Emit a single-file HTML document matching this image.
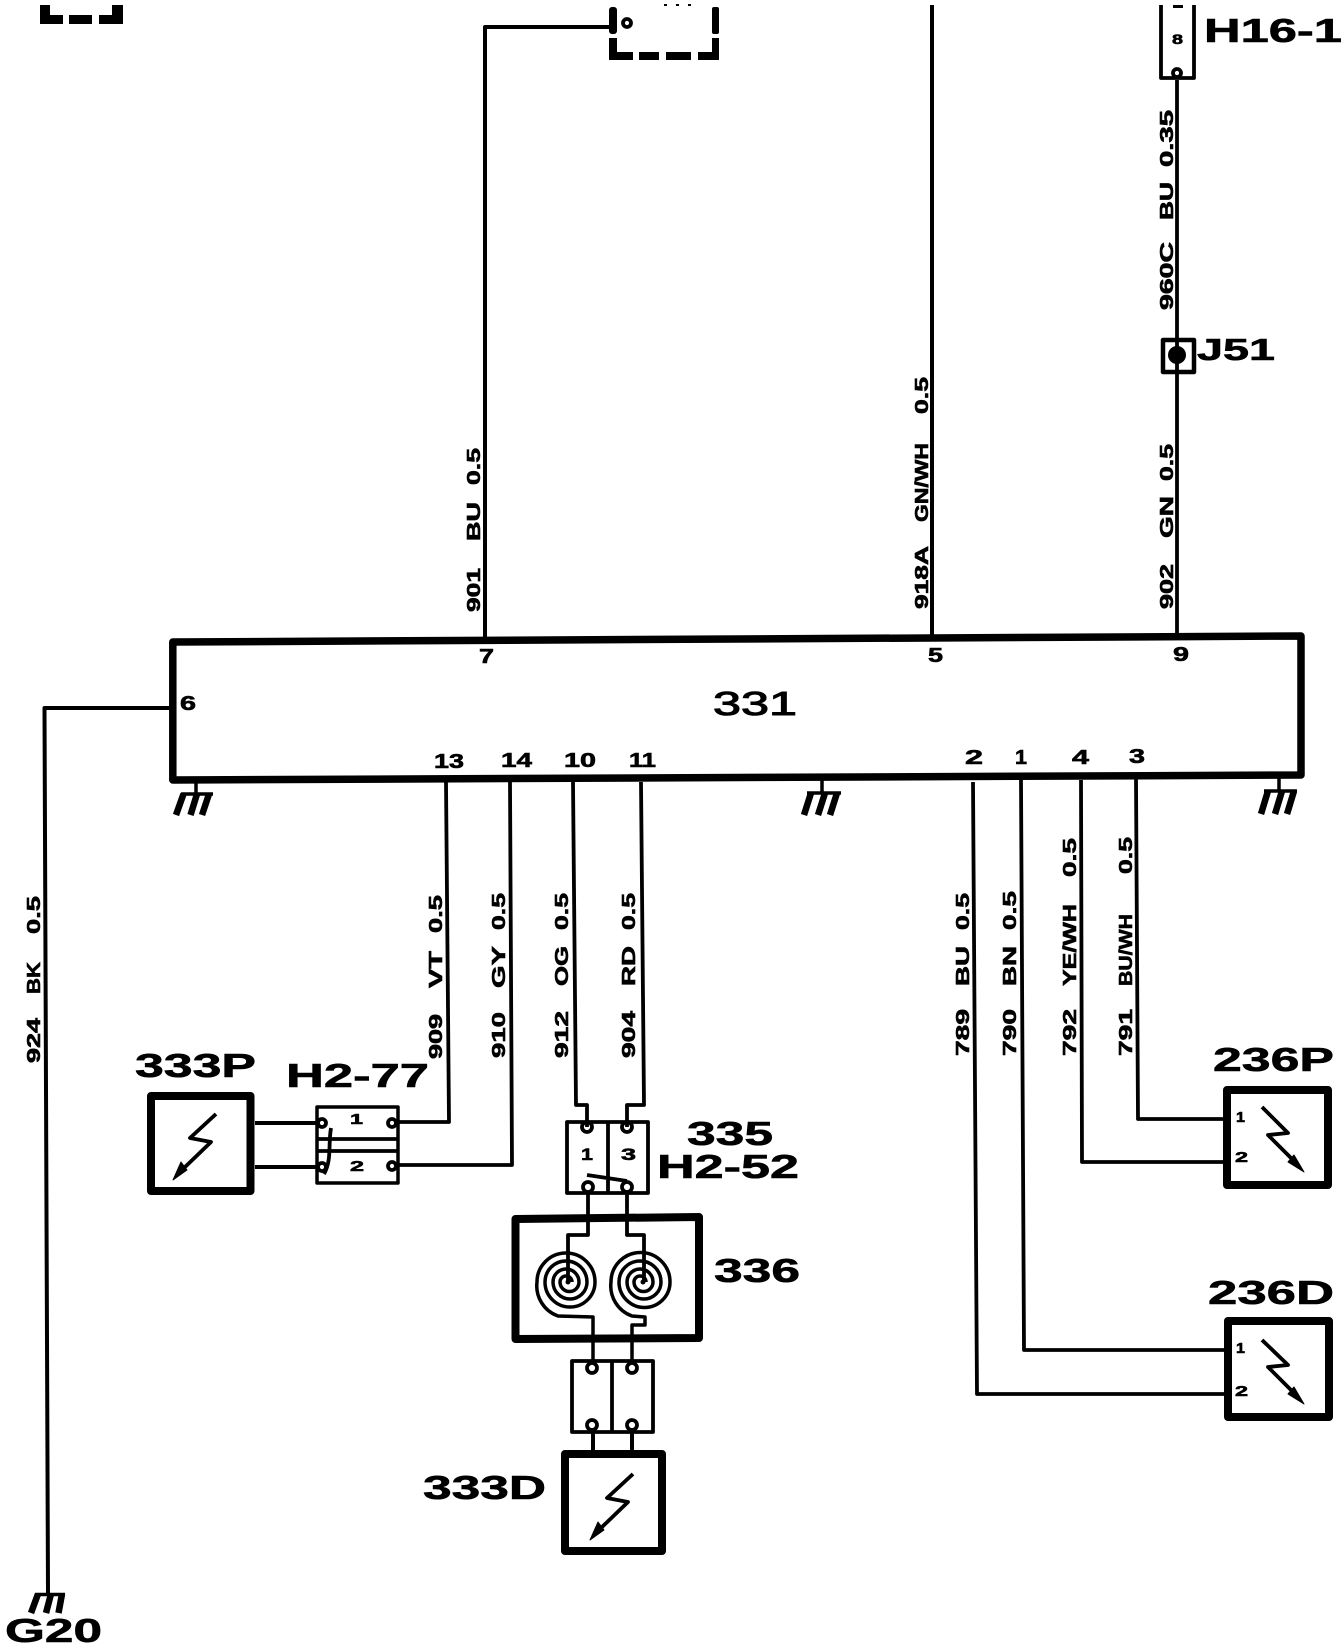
<!DOCTYPE html>
<html>
<head>
<meta charset="utf-8">
<style>
html,body{margin:0;padding:0;background:#fff}
svg{display:block}
text{font-family:"Liberation Sans",sans-serif;font-weight:bold;fill:#000;stroke:#000;stroke-width:.6}
.w{font-size:18px}
.b{font-size:33px}
.p{font-size:20px}
</style>
</head>
<body>
<svg width="1344" height="1648" viewBox="0 0 1344 1648" xmlns="http://www.w3.org/2000/svg">
<rect width="1344" height="1648" fill="#fff"/>
<g fill="none" stroke="#000" stroke-width="3.8" stroke-linejoin="round">
<!-- top-left bracket -->
<g fill="#000" stroke="none">
<rect x="40" y="5" width="10" height="19"/><rect x="40" y="15" width="23" height="9"/><rect x="69" y="15" width="23" height="9"/><rect x="99" y="15" width="24" height="9"/><rect x="112" y="5" width="11" height="19"/>
<!-- top dashed box -->
<rect x="609" y="7" width="8" height="27" rx="3"/><rect x="609" y="38" width="8" height="22"/>
<rect x="609" y="52" width="24" height="8"/><rect x="639" y="52" width="20" height="8"/><rect x="666" y="52" width="25" height="8"/><rect x="698" y="52" width="21" height="8"/>
<rect x="712" y="7" width="7" height="27" rx="2"/><rect x="712" y="38" width="7" height="22"/>
<rect x="664" y="4" width="3" height="2"/><rect x="676" y="4" width="3" height="2"/><rect x="688" y="4" width="3" height="2"/>
</g>
<circle cx="627" cy="23" r="4"/>
<path d="M485 638V27H613" stroke-width="4"/>
<path d="M932 5V638" stroke-width="4"/>
<path d="M1177 80V636"/>
<!-- H16-1 -->
<path d="M1161 5V78H1194V5"/>
<circle cx="1177" cy="73" r="4" fill="#fff"/>
<rect x="1173" y="5" width="10" height="3" fill="#000" stroke="none"/>
<!-- J51 -->
<rect x="1163" y="340" width="31" height="32" fill="#fff" stroke-width="4.5"/>
<circle cx="1177" cy="355" r="9" fill="#000" stroke="none"/>
<path d="M1177 338V372"/>
<!-- main box -->
<path d="M172.800 642L1301 636V775L172.800 780Z" stroke-width="7.5"/>
<!-- 924 -->
<path d="M169 708H44.500L48 1593" stroke-width="4"/>
<!-- grounds -->
<g stroke-width="3.500">
<path d="M196 783V794M181 794H213"/>
<path d="M822 779V793M807 793H841"/>
<path d="M1279 777V791M1264 791H1297"/>
<path d="M35 1594.500H65"/>
</g>
<g stroke-width="6.500" stroke-linejoin="miter">
<path d="M183.500 794L176 815M197 794L190.500 815M209 794L202 815"/>
<path d="M811 793L804 815M825 793L818 815M837 793L830 815"/>
<path d="M1268 791L1261 814M1282 791L1275 814M1294 791L1287 814"/>
<path d="M38 1594L31 1613M51 1594L46 1613M62 1594L58.500 1613"/>
</g>
<!-- lower wires -->
<path d="M446 782L449 1122H398"/>
<path d="M510 782L512 1165H398"/>
<path d="M573 782L576 1105H587V1127"/>
<path d="M641 782L644 1105H627V1127"/>
<path d="M973 782L977 1394H1224"/>
<path d="M1021 780L1024 1350H1224"/>
<path d="M1081 780L1082 1162H1224"/>
<path d="M1136 778L1138 1119H1224"/>
<!-- 333P -->
<rect x="151" y="1096" width="99.500" height="95" stroke-width="8"/>
<path d="M255 1123H316M255 1167H316" stroke-width="4"/>
<path d="M216 1114L190 1138L211 1142L184 1168" stroke-width="3.800"/>
<path d="M173 1180L181 1162L187 1170Z" fill="#000" stroke-width="1"/>
<!-- H2-77 -->
<rect x="317" y="1107" width="81" height="76" stroke-width="3.500"/>
<path d="M317 1139H398M317 1151H398"/>
<circle cx="322" cy="1123" r="4"/><circle cx="322" cy="1167" r="4"/><circle cx="392" cy="1123" r="4"/><circle cx="392" cy="1166" r="4"/>
<path d="M331 1128C328 1145 332 1160 324 1174"/>
<!-- 335 -->
<rect x="567" y="1122" width="81" height="71"/>
<path d="M608 1122V1178M608 1180V1193"/>
<circle cx="587" cy="1127" r="5"/><circle cx="627" cy="1127" r="5"/><circle cx="588" cy="1187" r="5"/><circle cx="627" cy="1187" r="5"/>
<path d="M587 1175L627 1181"/>
<!-- 336 -->
<path d="M515.500 1219L699 1217V1338L515.500 1339Z" stroke-width="8"/>
<path d="M588 1192V1235H568V1282M627 1192V1235H644V1282"/>
<path stroke-width="3.500" d="M572 1282A6 6 0 0 0 560 1282A9.500 9.500 0 0 0 579 1282A13 13 0 0 0 553 1282A17 17 0 0 0 587 1282A21 21 0 0 0 545 1282A24.500 24.500 0 0 0 595 1282A28.500 28.500 0 0 0 537 1282A32 32 0 0 0 558 1316L593 1317V1360"/>
<path stroke-width="3.500" d="M646 1282A6 6 0 0 0 634 1282A9.500 9.500 0 0 0 653 1282A13 13 0 0 0 627 1282A17 17 0 0 0 661 1282A21 21 0 0 0 619 1282A24.500 24.500 0 0 0 670 1282A29 29 0 0 0 611 1282A32 32 0 0 0 632 1316L645 1317V1325H632V1360"/>
<circle cx="568" cy="1282" r="2.500" fill="#000" stroke="none"/><circle cx="643" cy="1282" r="2.500" fill="#000" stroke="none"/>
<!-- lower connector -->
<rect x="572" y="1361" width="81" height="71"/>
<path d="M612 1361V1432"/>
<circle cx="592" cy="1368" r="5"/><circle cx="632" cy="1368" r="5"/><circle cx="592" cy="1425" r="5"/><circle cx="632" cy="1425" r="5"/>
<path d="M593 1430V1450M632 1430V1450" stroke-width="4"/>
<!-- 333D -->
<rect x="565" y="1454" width="97" height="97" stroke-width="8"/>
<path d="M633 1474L607 1498L628 1502L601 1528"/>
<path d="M590 1540L598 1522L604 1530Z" fill="#000" stroke-width="1"/>
<!-- 236P -->
<rect x="1227" y="1090" width="101" height="95" stroke-width="8"/>
<path d="M1262 1107L1288 1133L1268 1135L1295 1162"/>
<path d="M1304 1172L1288 1162L1294 1155Z" fill="#000" stroke-width="1"/>
<!-- 236D -->
<rect x="1228" y="1321" width="101" height="96" stroke-width="8"/>
<path d="M1262 1340L1288 1365L1268 1367L1295 1394"/>
<path d="M1304 1404L1288 1394L1294 1387Z" fill="#000" stroke-width="1"/>
</g>

<!-- big labels -->
<text class="b" x="1204" y="42" textLength="138" lengthAdjust="spacingAndGlyphs">H16-1</text>
<text class="b" x="1197" y="360" textLength="78" lengthAdjust="spacingAndGlyphs" style="font-size:31px">J51</text>
<text class="b" x="713" y="715" textLength="84" lengthAdjust="spacingAndGlyphs" style="font-weight:normal;stroke-width:1">331</text>
<text class="b" x="135" y="1077" textLength="121" lengthAdjust="spacingAndGlyphs">333P</text>
<text class="b" x="286" y="1087" textLength="143" lengthAdjust="spacingAndGlyphs">H2-77</text>
<text class="b" x="687" y="1145" textLength="86" lengthAdjust="spacingAndGlyphs">335</text>
<text class="b" x="657" y="1178" textLength="142" lengthAdjust="spacingAndGlyphs">H2-52</text>
<text class="b" x="714" y="1282" textLength="86" lengthAdjust="spacingAndGlyphs">336</text>
<text class="b" x="423" y="1499" textLength="123" lengthAdjust="spacingAndGlyphs">333D</text>
<text class="b" x="5" y="1642" textLength="97" lengthAdjust="spacingAndGlyphs">G20</text>
<text class="b" x="1213" y="1071" textLength="121" lengthAdjust="spacingAndGlyphs">236P</text>
<text class="b" x="1208" y="1304" textLength="126" lengthAdjust="spacingAndGlyphs">236D</text>

<!-- pin labels -->
<text class="p" x="479" y="663" textLength="15" lengthAdjust="spacingAndGlyphs">7</text>
<text class="p" x="180" y="710" textLength="16" lengthAdjust="spacingAndGlyphs">6</text>
<text class="p" x="928" y="662" textLength="15" lengthAdjust="spacingAndGlyphs">5</text>
<text class="p" x="1173" y="661" textLength="16" lengthAdjust="spacingAndGlyphs">9</text>
<text class="p" x="434" y="768" textLength="30" lengthAdjust="spacingAndGlyphs">13</text>
<text class="p" x="501" y="767" textLength="31" lengthAdjust="spacingAndGlyphs">14</text>
<text class="p" x="564" y="767" textLength="32" lengthAdjust="spacingAndGlyphs">10</text>
<text class="p" x="629" y="767" textLength="27" lengthAdjust="spacingAndGlyphs">11</text>
<text class="p" x="965" y="764" textLength="18" lengthAdjust="spacingAndGlyphs">2</text>
<text class="p" x="1015" y="764" textLength="12" lengthAdjust="spacingAndGlyphs">1</text>
<text class="p" x="1072" y="764" textLength="17" lengthAdjust="spacingAndGlyphs">4</text>
<text class="p" x="1129" y="763" textLength="16" lengthAdjust="spacingAndGlyphs">3</text>
<text class="p" x="350" y="1124" textLength="13" lengthAdjust="spacingAndGlyphs" style="font-size:15px">1</text>
<text class="p" x="350" y="1171" textLength="14" lengthAdjust="spacingAndGlyphs" style="font-size:15px">2</text>
<text class="p" x="581" y="1160" textLength="12" lengthAdjust="spacingAndGlyphs" style="font-size:17px">1</text>
<text class="p" x="621" y="1160" textLength="15" lengthAdjust="spacingAndGlyphs" style="font-size:17px">3</text>
<text class="p" x="1236" y="1122" textLength="9" lengthAdjust="spacingAndGlyphs" style="font-size:15px">1</text>
<text class="p" x="1235" y="1162" textLength="13" lengthAdjust="spacingAndGlyphs" style="font-size:15px">2</text>
<text class="p" x="1236" y="1353" textLength="9" lengthAdjust="spacingAndGlyphs" style="font-size:15px">1</text>
<text class="p" x="1235" y="1396" textLength="13" lengthAdjust="spacingAndGlyphs" style="font-size:15px">2</text>
<text class="p" x="1172" y="44" textLength="11" lengthAdjust="spacingAndGlyphs" style="font-size:14px">8</text>

<!-- wire labels -->
<g class="w">
<text class="w" transform="translate(480,612) rotate(-90)" textLength="44" lengthAdjust="spacingAndGlyphs">901</text>
<text class="w" transform="translate(480,541) rotate(-90)" textLength="39" lengthAdjust="spacingAndGlyphs">BU</text>
<text class="w" transform="translate(480,485) rotate(-90)" textLength="37" lengthAdjust="spacingAndGlyphs">0.5</text>

<text class="w" transform="translate(928,609) rotate(-90)" textLength="63" lengthAdjust="spacingAndGlyphs">918A</text>
<text class="w" transform="translate(928,522) rotate(-90)" textLength="79" lengthAdjust="spacingAndGlyphs">GN/WH</text>
<text class="w" transform="translate(928,414) rotate(-90)" textLength="37" lengthAdjust="spacingAndGlyphs">0.5</text>

<text class="w" transform="translate(1173,609) rotate(-90)" textLength="45" lengthAdjust="spacingAndGlyphs">902</text>
<text class="w" transform="translate(1173,538) rotate(-90)" textLength="42" lengthAdjust="spacingAndGlyphs">GN</text>
<text class="w" transform="translate(1173,481) rotate(-90)" textLength="37" lengthAdjust="spacingAndGlyphs">0.5</text>

<text class="w" transform="translate(1173,310) rotate(-90)" textLength="68" lengthAdjust="spacingAndGlyphs">960C</text>
<text class="w" transform="translate(1173,220) rotate(-90)" textLength="38" lengthAdjust="spacingAndGlyphs">BU</text>
<text class="w" transform="translate(1173,167) rotate(-90)" textLength="57" lengthAdjust="spacingAndGlyphs">0.35</text>

<text class="w" transform="translate(442,1059) rotate(-90)" textLength="45" lengthAdjust="spacingAndGlyphs">909</text>
<text class="w" transform="translate(442,988) rotate(-90)" textLength="37" lengthAdjust="spacingAndGlyphs">VT</text>
<text class="w" transform="translate(442,933) rotate(-90)" textLength="38" lengthAdjust="spacingAndGlyphs">0.5</text>

<text class="w" transform="translate(505,1058) rotate(-90)" textLength="46" lengthAdjust="spacingAndGlyphs">910</text>
<text class="w" transform="translate(505,988) rotate(-90)" textLength="42" lengthAdjust="spacingAndGlyphs">GY</text>
<text class="w" transform="translate(505,930) rotate(-90)" textLength="37" lengthAdjust="spacingAndGlyphs">0.5</text>

<text class="w" transform="translate(568,1058) rotate(-90)" textLength="47" lengthAdjust="spacingAndGlyphs">912</text>
<text class="w" transform="translate(568,986) rotate(-90)" textLength="40" lengthAdjust="spacingAndGlyphs">OG</text>
<text class="w" transform="translate(568,930) rotate(-90)" textLength="37" lengthAdjust="spacingAndGlyphs">0.5</text>

<text class="w" transform="translate(635,1058) rotate(-90)" textLength="47" lengthAdjust="spacingAndGlyphs">904</text>
<text class="w" transform="translate(635,986) rotate(-90)" textLength="40" lengthAdjust="spacingAndGlyphs">RD</text>
<text class="w" transform="translate(635,930) rotate(-90)" textLength="37" lengthAdjust="spacingAndGlyphs">0.5</text>

<text class="w" transform="translate(969,1056) rotate(-90)" textLength="47" lengthAdjust="spacingAndGlyphs">789</text>
<text class="w" transform="translate(969,986) rotate(-90)" textLength="40" lengthAdjust="spacingAndGlyphs">BU</text>
<text class="w" transform="translate(969,930) rotate(-90)" textLength="37" lengthAdjust="spacingAndGlyphs">0.5</text>

<text class="w" transform="translate(1016,1056) rotate(-90)" textLength="47" lengthAdjust="spacingAndGlyphs">790</text>
<text class="w" transform="translate(1016,986) rotate(-90)" textLength="40" lengthAdjust="spacingAndGlyphs">BN</text>
<text class="w" transform="translate(1016,930) rotate(-90)" textLength="39" lengthAdjust="spacingAndGlyphs">0.5</text>

<text class="w" transform="translate(1076,1056) rotate(-90)" textLength="47" lengthAdjust="spacingAndGlyphs">792</text>
<text class="w" transform="translate(1076,986) rotate(-90)" textLength="82" lengthAdjust="spacingAndGlyphs">YE/WH</text>
<text class="w" transform="translate(1076,877) rotate(-90)" textLength="39" lengthAdjust="spacingAndGlyphs">0.5</text>

<text class="w" transform="translate(1132,1056) rotate(-90)" textLength="47" lengthAdjust="spacingAndGlyphs">791</text>
<text class="w" transform="translate(1132,986) rotate(-90)" textLength="72" lengthAdjust="spacingAndGlyphs">BU/WH</text>
<text class="w" transform="translate(1132,874) rotate(-90)" textLength="37" lengthAdjust="spacingAndGlyphs">0.5</text>

<text class="w" transform="translate(40,1063) rotate(-90)" textLength="45" lengthAdjust="spacingAndGlyphs">924</text>
<text class="w" transform="translate(40,994) rotate(-90)" textLength="32" lengthAdjust="spacingAndGlyphs">BK</text>
<text class="w" transform="translate(40,934) rotate(-90)" textLength="38" lengthAdjust="spacingAndGlyphs">0.5</text>
</g>
</svg>
</body>
</html>
